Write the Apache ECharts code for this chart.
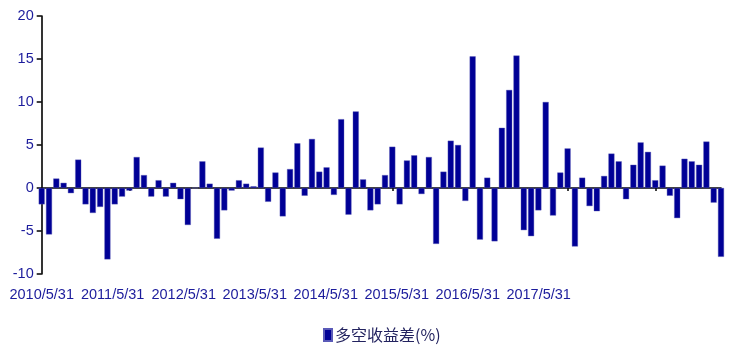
<!DOCTYPE html>
<html>
<head>
<meta charset="utf-8">
<script src="https://cdn.jsdelivr.net/npm/echarts@6/dist/echarts.min.js"></script>
<style>
html,body{margin:0;padding:0;background:#fff;}
#chart{width:732px;height:348px;}
</style>
</head>
<body>
<div id="chart"></div>
<script>
// ---- data ----
var seriesName = '多空收益差(%)';
var values = [
  -1.9, -5.4, 1.1, 0.6, -0.6, 3.3, -1.9, -2.9, -2.2, -8.3,
  -1.9, -1.0, -0.3, 3.6, 1.5, -1.0, 0.9, -1.0, 0.6, -1.3,
  -4.3, 0.0, 3.1, 0.5, -5.9, -2.6, -0.3, 0.9, 0.5, 0.2,
  4.7, -1.6, 1.8, -3.3, 2.2, 5.2, -0.9, 5.7, 1.9, 2.4,
  -0.8, 8.0, -3.1, 8.9, 1.0, -2.6, -1.9, 1.5, 4.8, -1.9,
  3.2, 3.8, -0.7, 3.6, -6.5, 1.9, 5.5, 5.0, -1.5, 15.3,
  -6.0, 1.2, -6.2, 7.0, 11.4, 15.4, -4.9, -5.6, -2.6, 10.0,
  -3.2, 1.8, 4.6, -6.8, 1.2, -2.1, -2.7, 1.4, 4.0, 3.1,
  -1.3, 2.7, 5.3, 4.2, 0.9, 2.6, -0.9, -3.5, 3.4, 3.1,
  2.7, 5.4, -1.7, -8.0
];
var tickLabels = ['2010/5/31','2011/5/31','2012/5/31','2013/5/31','2014/5/31','2015/5/31','2016/5/31','2017/5/31'];
var categories = [];
for (var i = 0; i < values.length; i++) {
  var m = 4 + i; // months since Jan 2010 (0-based), starting May 2010
  categories.push((2010 + Math.floor(m / 12)) + '/' + (m % 12 + 1));
}
var labelStep = 9.72;

var blueText = '#1c1c9c';
var chart = echarts.init(document.getElementById('chart'));
chart.setOption({
  animation: false,
  backgroundColor: '#ffffff',
  grid: { left: 41.7, right: 11, top: 16, bottom: 74 },
  legend: {
    data: [seriesName],
    left: 318, top: 322,
    icon: 'rect', itemWidth: 8, itemHeight: 12, itemGap: 4,
    textStyle: { fontSize: 16, color: '#23235f', fontFamily: '"Noto Sans CJK SC", sans-serif', padding: [0, 0, 0, -2] }
  },
  xAxis: [
    {
      type: 'category',
      data: categories,
      boundaryGap: false,
      axisLine: { show: true, onZero: true, lineStyle: { color: '#000', width: 1.6 } },
      axisTick: { show: true, interval: 11, length: 3, lineStyle: { color: '#000', width: 1.5 } },
      axisLabel: { show: false },
      splitLine: { show: false }
    },
    {
      type: 'value',
      position: 'bottom',
      min: 0,
      max: values.length - 1,
      interval: labelStep,
      axisLine: { show: false, onZero: false },
      axisTick: { show: false },
      splitLine: { show: false },
      axisLabel: {
        show: true,
        showMaxLabel: false,
        margin: 13,
        fontSize: 14.5,
        color: blueText,
        fontFamily: '"Liberation Sans", Arial, sans-serif',
        formatter: function (v) {
          var k = Math.round(v / labelStep);
          if (Math.abs(v - k * labelStep) > 0.01 || k >= tickLabels.length) return '';
          return tickLabels[k];
        }
      }
    }
  ],
  yAxis: {
    type: 'value',
    min: -10, max: 20, interval: 5,
    axisLine: { show: true, onZero: false, lineStyle: { color: '#000', width: 1.6 } },
    axisTick: { show: true, length: 5, inside: false, lineStyle: { color: '#000', width: 1.5 } },
    splitLine: { show: false },
    axisLabel: {
      margin: 8, fontSize: 14.5, color: blueText,
      fontFamily: '"Liberation Sans", Arial, sans-serif'
    }
  },
  series: [{
    name: seriesName,
    type: 'bar',
    xAxisIndex: 0,
    data: values,
    barWidth: 6,
    itemStyle: { color: '#000096', borderColor: '#5a5ab8', borderWidth: 0.4 }
  }]
});
</script>
</body>
</html>
